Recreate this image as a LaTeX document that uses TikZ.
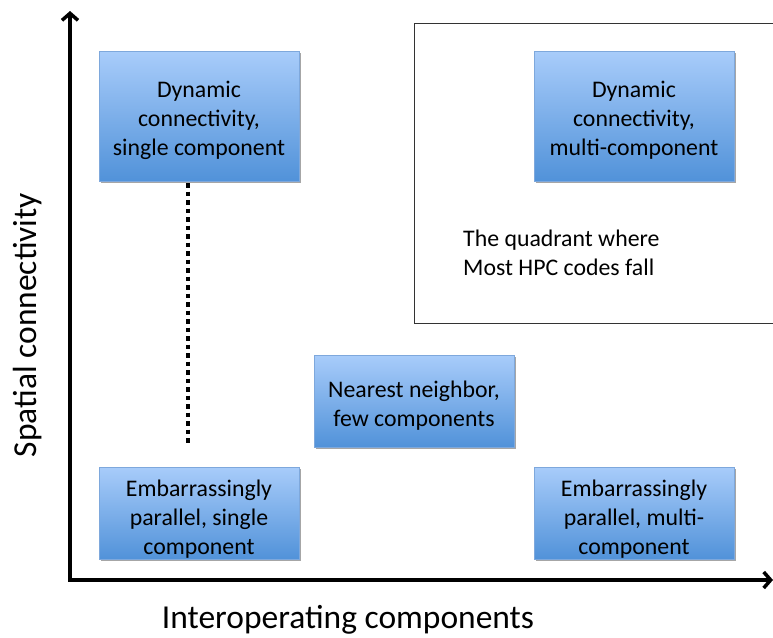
\documentclass[tikz,border=0pt]{standalone}
\usepackage{fontspec}
\setmainfont{Carlito}
\usetikzlibrary{arrows.meta,shadows}
\newcommand\boxtxt[2]{\raisebox{-#1}[\height][\depth]{\begin{tabular}{@{}c@{}}#2\end{tabular}}}
\begin{document}
\begin{tikzpicture}[x=1pt,y=-1pt,
  boxstyle/.style={draw=boxedge, line width=0.6pt, top color=boxtop, bottom color=boxbot,
    minimum width=200pt, inner sep=0pt,
    font=\fontsize{23.8}{29}\selectfont,
    drop shadow={shadow xshift=1.5pt, shadow yshift=-2pt, fill=black, opacity=0.35}},
  tallbox/.style={boxstyle, minimum height=130pt},
  shortbox/.style={boxstyle, minimum height=92pt},
  axis/.style={line width=3.5pt, -{Straight Barb[length=7pt,width=16pt]}},
  dotline/.style={line width=4.5pt, dash pattern=on 4.5pt off 4pt},
  axislabel/.style={font=\fontsize{33.5}{40}\selectfont, inner sep=0pt},
  note/.style={font=\fontsize{23.8}{29}\selectfont, align=left, inner sep=0pt, anchor=north west}
]
\definecolor{boxtop}{HTML}{A8CCFA}
\definecolor{boxbot}{HTML}{5192D9}
\definecolor{boxedge}{HTML}{7EA8DC}
\useasboundingbox (0,0) rectangle (773,637);
\fill[white] (0,0) rectangle (773,637);

% quadrant frame
\node[draw=black!80, line width=1pt, minimum width=380pt, minimum height=300pt, inner sep=0pt, anchor=north west] (quad) at (414,23) {};

% axes
\coordinate (O) at (70,580);
\coordinate (ytop) at (70,11);
\coordinate (xend) at (773,580);
\draw[axis] (O) -- (ytop);
\draw[axis] ([xshift=-1.75pt]O) -- (xend);

% boxes
\node[tallbox] (b1) at (199,116) {\boxtxt{5pt}{Dynamic\\connectivity,\\single component}};
\node[tallbox] (b2) at (634,116) {\boxtxt{5pt}{Dynamic\\connectivity,\\multi-component}};
\node[shortbox] (b3) at (414,401) {\boxtxt{5.5pt}{Nearest neighbor,\\few components}};
\node[shortbox] (b4) at (199,513) {\boxtxt{7pt}{Embarrassingly\\parallel, single\\component}};
\node[shortbox] (b5) at (634,513) {\boxtxt{7pt}{Embarrassingly\\parallel, multi-\\component}};

% dotted link
\coordinate (dtop) at (188,183);
\coordinate (dbot) at (188,446);
\draw[dotline] (dtop) -- (dbot);

% note
\node[note] (qtext) at (463,230) {The quadrant where\\Most HPC codes fall};

% axis labels
\node[axislabel, rotate=90] (ylab) at (28,325) {Spatial connectivity};
\node[axislabel] (xlab) at (348,620) {Interoperating components};
\end{tikzpicture}
\end{document}
